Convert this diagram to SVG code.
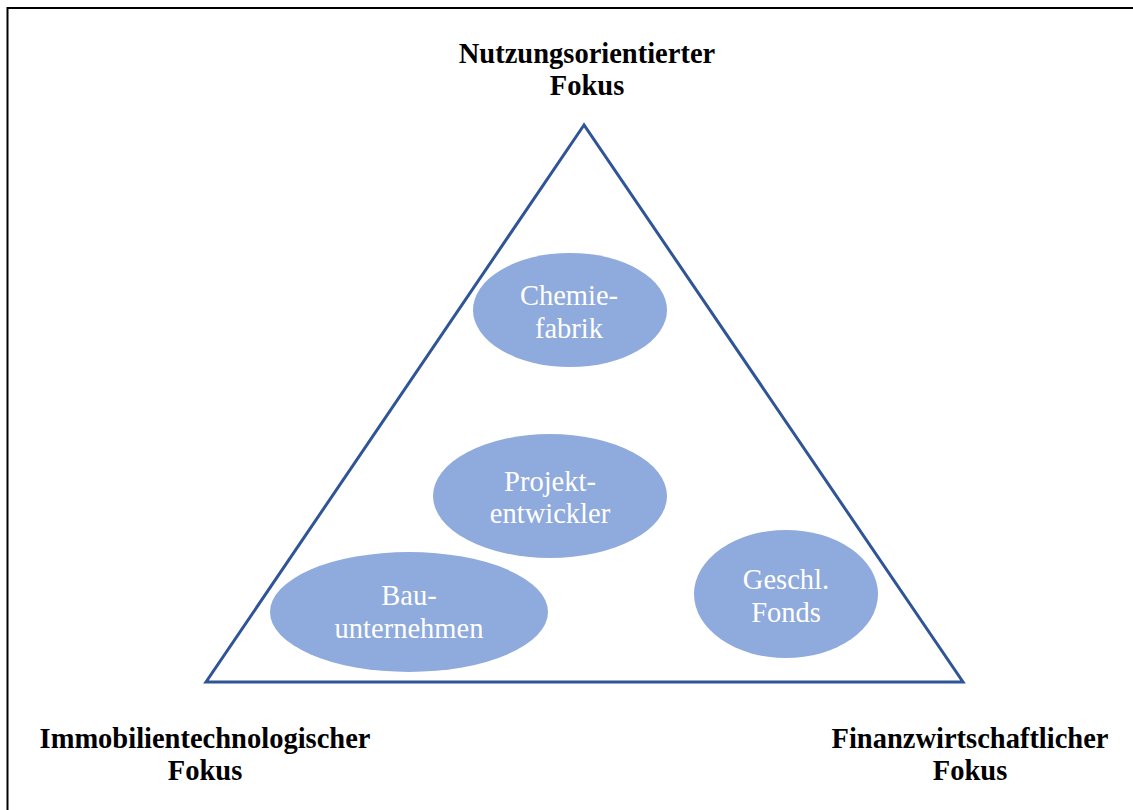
<svg xmlns="http://www.w3.org/2000/svg" width="1133" height="810" viewBox="0 0 1133 810">
  <style>
    .lbl { font-family: "Liberation Serif", "Times New Roman", serif; font-weight: bold; font-size: 28.5px; fill: #000; text-anchor: middle; }
    .node-shape { fill: #8FAADC; }
    .node-text { font-family: "Liberation Serif", "Times New Roman", serif; font-size: 28.5px; fill: #fff; text-anchor: middle; }
    .edge { fill: none; stroke: #2F5597; stroke-width: 3; stroke-linejoin: miter; }
  </style>
  <rect x="0" y="0" width="1133" height="810" fill="#fff"/>
  <!-- frame -->
  <path d="M7.5 810 V8 H1133" fill="none" stroke="#000" stroke-width="2"/>

  <!-- triangle outline -->
  <g id="connectors">
    <polygon class="edge" points="584,125 206,682 963,682"/>
  </g>

  <!-- corner labels -->
  <g id="label-top">
    <text class="lbl" x="587" y="63">Nutzungsorientierter</text>
    <text class="lbl" x="587" y="95">Fokus</text>
  </g>
  <g id="label-left">
    <text class="lbl" x="205" y="748">Immobilientechnologischer</text>
    <text class="lbl" x="205" y="780">Fokus</text>
  </g>
  <g id="label-right">
    <text class="lbl" x="970" y="748">Finanzwirtschaftlicher</text>
    <text class="lbl" x="970" y="780">Fokus</text>
  </g>

  <!-- actors -->
  <g id="chemiefabrik">
    <ellipse class="node-shape" cx="570" cy="310" rx="97" ry="57"/>
    <text class="node-text" x="569" y="305">Chemie-</text>
    <text class="node-text" x="569" y="338">fabrik</text>
  </g>
  <g id="projektentwickler">
    <ellipse class="node-shape" cx="550" cy="496" rx="117" ry="62"/>
    <text class="node-text" x="550" y="491">Projekt-</text>
    <text class="node-text" x="550" y="523">entwickler</text>
  </g>
  <g id="bauunternehmen">
    <ellipse class="node-shape" cx="409" cy="612" rx="139" ry="60"/>
    <text class="node-text" x="409" y="605">Bau-</text>
    <text class="node-text" x="409" y="638">unternehmen</text>
  </g>
  <g id="geschl-fonds">
    <ellipse class="node-shape" cx="786" cy="594" rx="92" ry="64"/>
    <text class="node-text" x="786" y="589">Geschl.</text>
    <text class="node-text" x="786" y="622">Fonds</text>
  </g>
</svg>
